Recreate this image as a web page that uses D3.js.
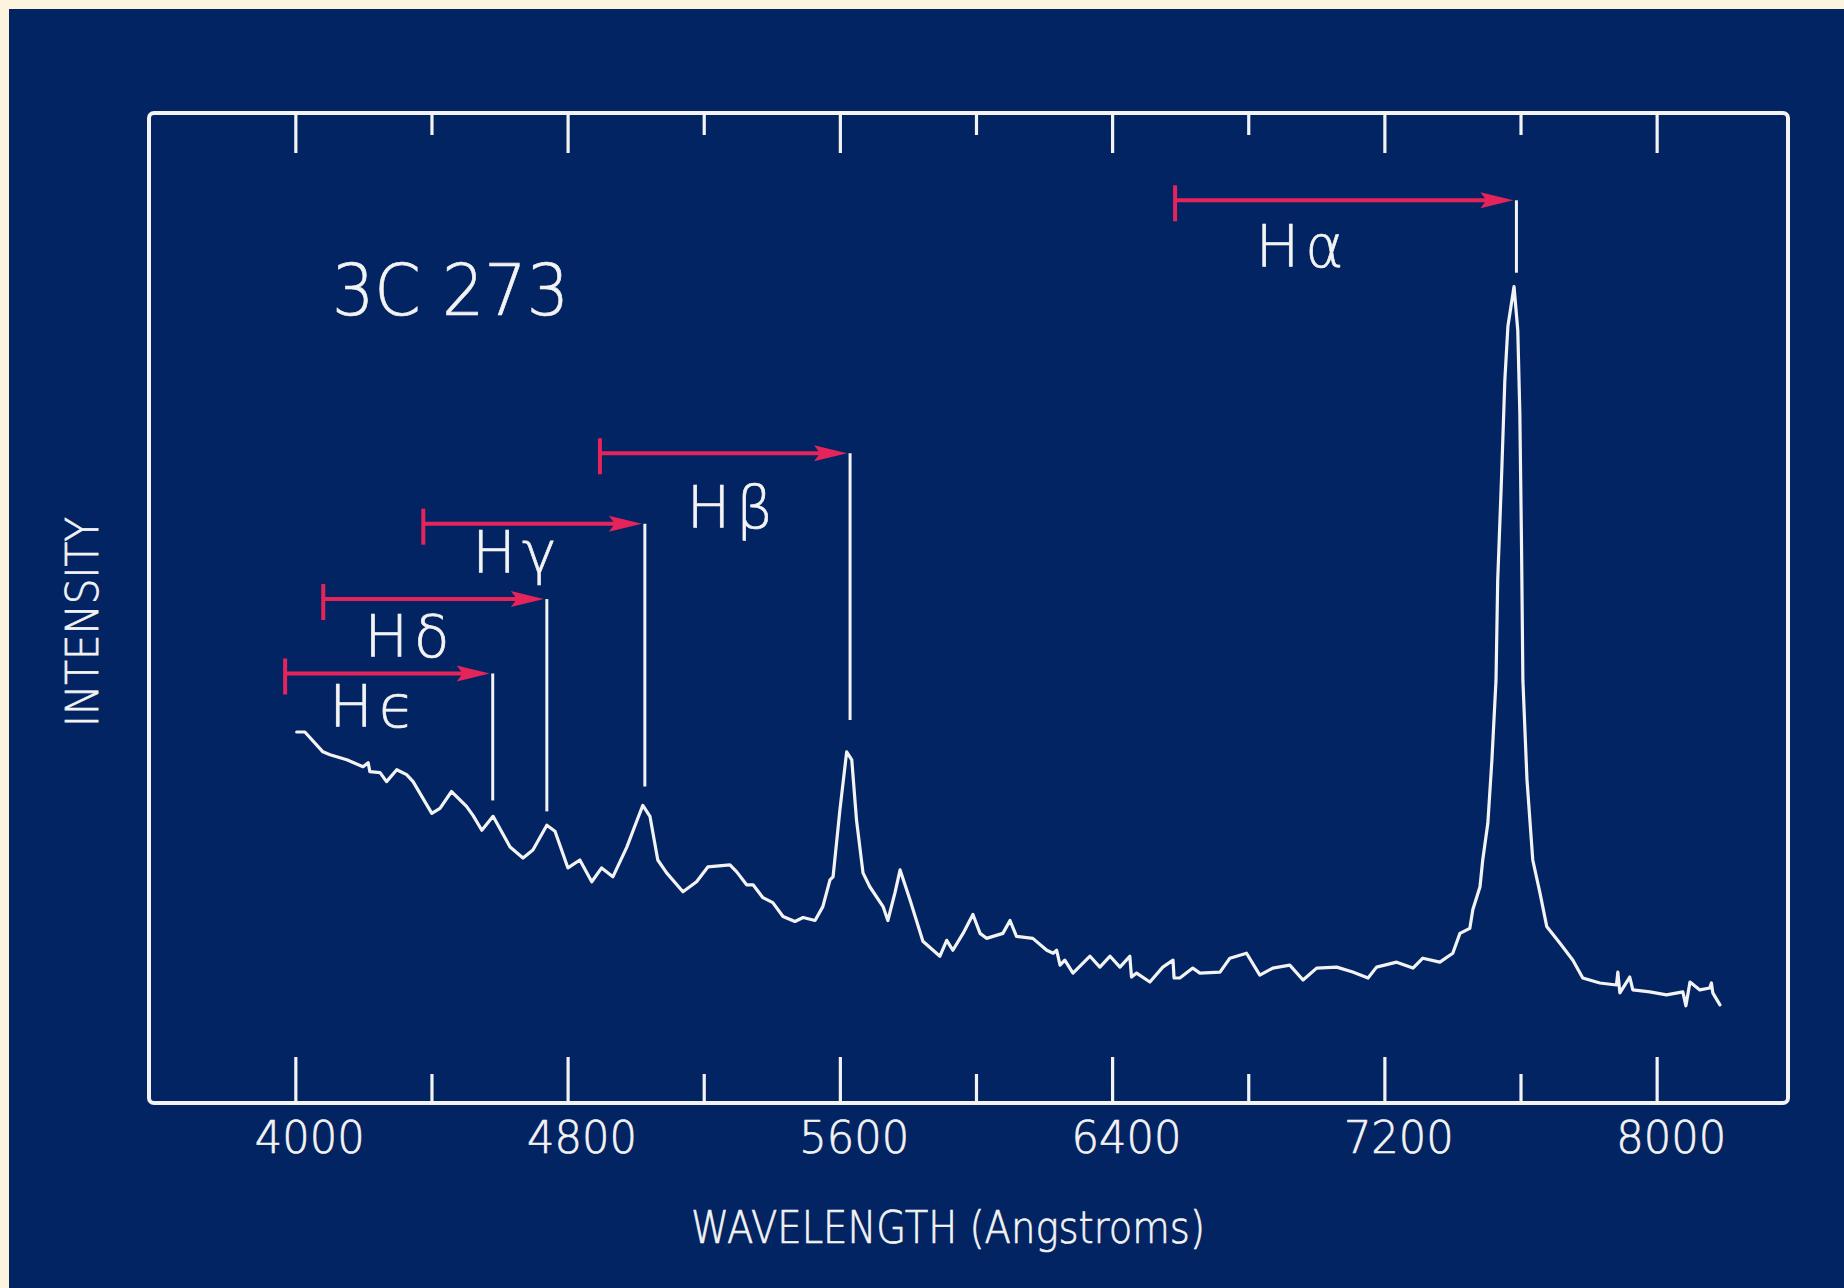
<!DOCTYPE html>
<html lang="en">
<head>
    <meta charset="UTF-8">
    <title>3C 273 Spectrum</title>
    <style>
        body {
            margin: 0;
            background: #fdf4de;
        }
        .chart text {
            font-family: "DejaVu Sans", "Liberation Sans", sans-serif;
            font-weight: 200;
            fill: #f3f3f3;
            stroke: #f3f3f3;
            stroke-width: 0.7px;
        }
    </style>
</head>
<body>
    <div id="chart" class="chart"></div>

    <script src="https://cdn.jsdelivr.net/npm/d3@7"></script>
    <script>
        // spectrum: wavelength in Angstroms, intensity in arbitrary units
        const wavelength = [
            4004, 4028, 4081, 4102, 4151, 4199, 4214, 4219, 4249, 4268,
            4298, 4327, 4346, 4401, 4425, 4459, 4503, 4522, 4548, 4581,
            4631, 4669, 4698, 4739, 4763, 4801, 4836, 4871, 4900, 4933,
            4974, 5003, 5021, 5042, 5065, 5091, 5139, 5179, 5212, 5277,
            5297, 5326, 5345, 5374, 5403, 5433, 5468, 5492, 5527, 5550,
            5571, 5580, 5600, 5620, 5635, 5649, 5668, 5688, 5727, 5741,
            5762, 5777, 5806, 5844, 5874, 5894, 5914, 5932, 5962, 5991,
            6012, 6031, 6079, 6100, 6119, 6167, 6208, 6227, 6237, 6247, 6261, 6285,
            6335, 6364, 6394, 6423, 6452, 6457, 6472, 6511, 6549, 6579, 6582, 6599,
            6637, 6658, 6717, 6746, 6795, 6834, 6872, 6922, 6961, 7001,
            7060, 7107, 7152, 7177, 7236, 7284, 7313, 7363, 7401, 7422,
            7451, 7460, 7481, 7489, 7504, 7516, 7528, 7533, 7544, 7554,
            7563, 7581, 7592, 7598, 7603, 7607, 7619, 7636, 7657, 7677,
            7716, 7754, 7783, 7833, 7882, 7886, 7892, 7921, 7930, 7980, 8029,
            8077, 8086, 8098, 8127, 8156, 8161, 8165, 8186
        ];
        const intensity = [
            376, 376, 356, 353, 348, 341, 345, 336, 335, 326,
            338, 333, 326, 294, 299, 316, 301, 292, 277, 291,
            260, 249, 257, 282, 276, 239, 247, 225, 239, 230,
            260, 286, 302, 291, 247, 234, 215, 225, 240, 242,
            235, 222, 222, 209, 204, 190, 185, 189, 186, 200,
            227, 230, 297, 356, 348, 287, 234, 220, 200, 186,
            214, 237, 207, 165, 156, 150, 166, 156, 173, 192,
            173, 168, 173, 186, 170, 168, 156, 153, 156, 141, 146, 133,
            150, 139, 150, 139, 150, 129, 133, 124, 139, 146, 128, 128,
            138, 133, 134, 148, 153, 131, 138, 141, 126, 138,
            139, 134, 128, 139, 144, 138, 148, 144, 153, 173,
            178, 197, 220, 247, 284, 348, 428, 529, 630, 731,
            785, 825, 781, 698, 563, 428, 328, 247, 214, 180,
            163, 146, 128, 123, 121, 134, 113, 129, 116, 114, 111,
            114, 100, 124, 116, 118, 123, 113, 101
        ];

        // Balmer lines: rest wavelength -> redshifted position
        const lineGreek = ["\u03b1", "\u03b2", "\u03b3", "\u03b4", "\u03f5"];
        const lineRest = [6585, 4895, 4376, 4082, 3970];
        const lineShifted = [7588, 5630, 5027, 4739, 4580];
        const arrowLevel = [912, 657, 586, 510, 435];
        const lineFoot = [839, 388, 321, 296, 307];
        const labelWave = [6822, 5150, 4520, 4203, 4100];
        const labelLevel = [845, 582, 536, 452, 381];

        const majorTicks = [4000, 4800, 5600, 6400, 7200, 8000];
        const minorTicks = [4400, 5200, 6000, 6800, 7600];

        const width = 1844;
        const height = 1288;
        const frame = { left: 149, right: 1788, top: 113, bottom: 1103 };
        const ink = "#f3f3f3";
        const red = "#e6245c";

        const x = d3.scaleLinear()
            .domain([3570, 8386])
            .range([frame.left, frame.right]);

        const y = d3.scaleLinear()
            .domain([0, 1000])
            .range([1105, frame.top]);

        const svg = d3.select("#chart")
            .append("svg")
            .attr("width", width)
            .attr("height", height);

        svg.append("rect")
            .attr("x", 9)
            .attr("y", 9)
            .attr("width", width - 9)
            .attr("height", height - 9)
            .attr("fill", "#022462");

        // ticks on both edges, pointing inwards, no domain line
        function tickAxis(axis, pos, size, labels) {
            const g = svg.append("g")
                .attr("transform", `translate(0,${pos})`)
                .style("color", ink)
                .call(axis.tickSize(-size).tickPadding(19).tickFormat(labels ? d3.format("d") : ""));
            g.attr("font-family", null).attr("font-size", null);
            g.select(".domain").remove();
            g.selectAll(".tick line").attr("stroke-width", 3.2);
            return g;
        }

        tickAxis(d3.axisTop(x).tickValues(majorTicks), frame.top, 40, false);
        tickAxis(d3.axisTop(x).tickValues(minorTicks), frame.top, 22, false);
        tickAxis(d3.axisBottom(x).tickValues(minorTicks), frame.bottom, 29, false);
        const bottomAxis = tickAxis(d3.axisBottom(x).tickValues(majorTicks), frame.bottom, 46, true);

        bottomAxis.selectAll(".tick text")
            .attr("dx", 14)
            .attr("font-size", 44)
            .attr("textLength", 110)
            .attr("lengthAdjust", "spacingAndGlyphs");

        svg.append("rect")
            .attr("x", frame.left)
            .attr("y", frame.top)
            .attr("width", frame.right - frame.left)
            .attr("height", frame.bottom - frame.top)
            .attr("rx", 5)
            .attr("fill", "none")
            .attr("stroke", ink)
            .attr("stroke-width", 4);

        // the spectrum trace
        const line = d3.line()
            .x(i => x(wavelength[i]))
            .y(i => y(intensity[i]));

        svg.append("path")
            .attr("d", line(d3.range(wavelength.length)))
            .attr("fill", "none")
            .attr("stroke", ink)
            .attr("stroke-width", 3.2)
            .attr("stroke-linejoin", "round")
            .attr("stroke-linecap", "round");

        // redshift markers
        const markers = svg.append("g")
            .selectAll("g")
            .data(d3.range(lineRest.length))
            .join("g");

        markers.append("line")
            .attr("x1", i => x(lineRest[i]))
            .attr("x2", i => x(lineShifted[i]) - 28)
            .attr("y1", i => y(arrowLevel[i]))
            .attr("y2", i => y(arrowLevel[i]))
            .attr("stroke", red)
            .attr("stroke-width", 4);

        markers.append("line")
            .attr("x1", i => x(lineRest[i]))
            .attr("x2", i => x(lineRest[i]))
            .attr("y1", i => y(arrowLevel[i]) - 15)
            .attr("y2", i => y(arrowLevel[i]) + 21)
            .attr("stroke", red)
            .attr("stroke-width", 4);

        markers.append("path")
            .attr("d", i => {
                const tx = x(lineShifted[i]) - 3;
                const ty = y(arrowLevel[i]);
                return `M${tx},${ty}L${tx - 33},${ty - 8}L${tx - 27},${ty}L${tx - 33},${ty + 8}Z`;
            })
            .attr("fill", red);

        markers.append("line")
            .attr("x1", i => x(lineShifted[i]))
            .attr("x2", i => x(lineShifted[i]))
            .attr("y1", i => y(arrowLevel[i]))
            .attr("y2", i => y(lineFoot[i]))
            .attr("stroke", ink)
            .attr("stroke-width", 3);

        const labels = markers.append("text")
            .attr("x", i => x(labelWave[i]))
            .attr("y", i => y(labelLevel[i]))
            .attr("font-size", 58);
        labels.append("tspan").text("H");
        labels.append("tspan").attr("dx", 6).text(i => lineGreek[i]);

        svg.append("text")
            .attr("x", 332)
            .attr("y", 315)
            .attr("font-size", 71)
            .attr("textLength", 237)
            .attr("lengthAdjust", "spacingAndGlyphs")
            .text("3C 273");

        svg.append("text")
            .attr("transform", "translate(98,622) rotate(-90)")
            .attr("text-anchor", "middle")
            .attr("font-size", 45)
            .attr("textLength", 210)
            .attr("lengthAdjust", "spacingAndGlyphs")
            .text("INTENSITY");

        svg.append("text")
            .attr("x", 691)
            .attr("y", 1243)
            .attr("font-size", 45)
            .attr("textLength", 514)
            .attr("lengthAdjust", "spacingAndGlyphs")
            .text("WAVELENGTH (Angstroms)");
    </script>
</body>
</html>
